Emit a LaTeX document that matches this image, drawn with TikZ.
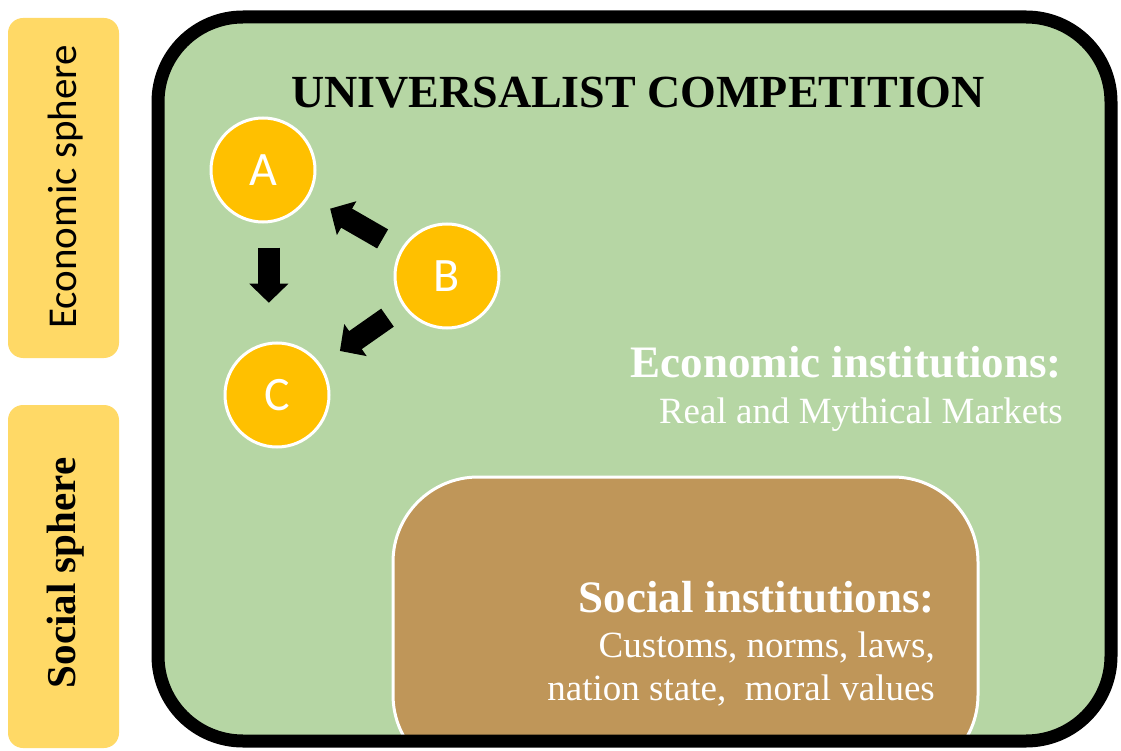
\documentclass[tikz,border=0pt]{standalone}
\usepackage{fontspec}
\setmainfont{Liberation Serif}
\newfontfamily\calfont{Carlito}
\usetikzlibrary{arrows.meta,calc}
\definecolor{boxgreen}{RGB}{182,214,164}
\definecolor{circgold}{RGB}{255,192,0}
\definecolor{sidegold}{RGB}{255,217,102}
\definecolor{brownbox}{RGB}{191,150,89}
\tikzset{
  agent/.style={circle,fill=circgold,draw=white,line width=3pt,minimum size=104pt,inner sep=0pt,text=white,font=\calfont\fontsize{48}{50}\selectfont},
  blockarrow/.style={line width=22pt,-{Triangle[length=19pt,width=38pt]}},
  sidebox/.style={fill=sidegold,rounded corners=15pt},
  headtext/.style={text=white,font=\bfseries\fontsize{45}{50}\selectfont,inner sep=0pt},
  subtext/.style={text=white,font=\fontsize{37}{42}\selectfont,inner sep=0pt}
}
\begin{document}
\begin{tikzpicture}[x=1pt,y=-1pt]
\useasboundingbox (0,0) rectangle (1121,751);
% side boxes
\fill[sidebox] (8,18) rectangle (119,358);
\fill[sidebox] (8,405) rectangle (119,748);
\node[rotate=90,font=\calfont\fontsize{41}{44}\selectfont,inner sep=0pt] (eco) at (66,187) {Economic sphere};
\node[rotate=90,font=\bfseries\fontsize{41}{44}\selectfont,inner sep=0pt] (soc) at (66,573) {Social sphere};
% main box
\path[fill=boxgreen,rounded corners=85pt] (158,17) rectangle (1111,741);
\begin{scope}
\clip[rounded corners=85pt] (158,17) rectangle (1111,741);
\draw[fill=brownbox,draw=white,line width=3pt,rounded corners=85pt] (393,477) rectangle (978,780);
\end{scope}
\draw[line width=13pt,rounded corners=85pt] (158,17) rectangle (1111,741);
% title
\node[font=\bfseries\fontsize{46}{50}\selectfont,anchor=base,inner sep=0pt] (title) at (638,108) {UNIVERSALIST COMPETITION};
% agents
\node[agent] (A) at (263,170) {A};
\node[agent] (B) at (447,276) {B};
\node[agent] (C) at (277,395) {C};
\draw[blockarrow] let \p1=($(A)!0.345!(C)$), \p2=($(A)!0.59!(C)$) in (\x1+1pt,\y1) -- (\x1+1pt,\y2);
\draw[blockarrow] ($(B)!0.35!(A)$) -- ($(B)!0.635!(A)$);
\draw[blockarrow] ($(B)!0.35!(C)$) -- ($(B)!0.63!(C)$);
% texts
\node[headtext,anchor=base east] (ecoh) at (1062,377) {Economic institutions:};
\node[subtext,anchor=base east] (ecos) at (1063,423) {Real and Mythical Markets};
\node[headtext,anchor=base east] (soch) at (935,612) {Social institutions:};
\node[subtext,anchor=base east] (socs1) at (935,657) {Customs, norms, laws,};
\node[subtext,anchor=base east] (socs2) at (935,700) {nation state,\ \ moral values};
\end{tikzpicture}
\end{document}
